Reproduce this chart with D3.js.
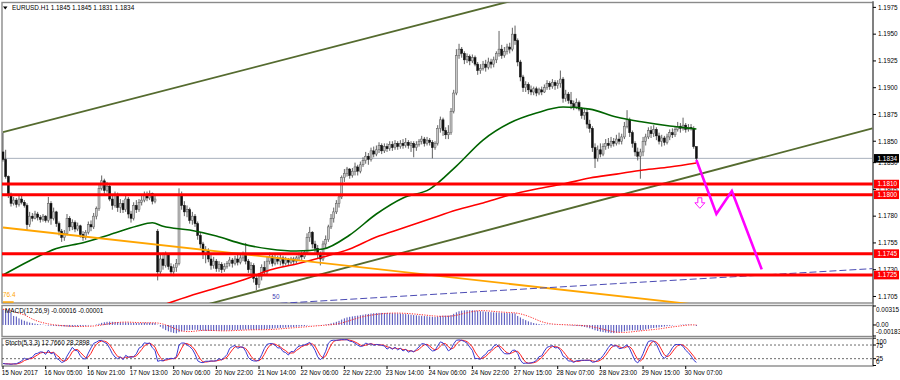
<!DOCTYPE html>
<html>
<head>
<meta charset="utf-8">
<script src="https://cdn.jsdelivr.net/npm/d3@7"></script>
<style>
body { margin: 0; background: #fff; }
svg text { font-family: "Liberation Sans", Arial, sans-serif; font-size: 6.4px; }
</style>
</head>
<body>
<svg id="chart" width="900" height="380"></svg>
<script>
// EURUSD H1 - candles, MAs, MACD and Stochastic, MT4 look

const headerText = "EURUSD.H1  1.1845 1.1845 1.1831 1.1834"
const macdTitle = "MACD(12,26,9) -0.00016 -0.00001"
const stochTitle = "Stoch(5,3,3) 12.7660 28.2898"

// prices are in pips above 1.1700
const opens = [140,133,117,100,92,95,91,96,93,90,72,80,78,82,79,77,80,76,92,78,84,73,66,60,64,78,70,74,68,71,63,60,65,72,70,80,87,106,113,104,108,96,90,100,88,92,86,96,82,78,90,86,93,95,100,97,101,94,
66,28,40,34,44,33,28,32,36,100,90,84,86,76,80,73,62,54,44,48,40,34,38,31,35,30,33,36,39,36,40,37,41,44,38,30,34,22,16,24,32,28,38,42,36,40,38,41,36,39,37,40,38,41,44,42,46,60,65,54,50,44,40,54,58,70,78,84,92,98,116,120,124,118,122,126,122,128,132,136,133,141,138,142,146,141,145,143,147,144,148,145,148,146,149,146,148,144,147,150,152,148,151,149,144,148,162,170,160,156,158,178,195,230,236,232,226,229,225,
228,222,216,218,222,219,224,222,226,232,236,230,234,238,236,250,244,224,210,200,203,198,196,199,195,198,196,200,204,201,205,202,204,208,190,194,188,185,182,186,180,174,177,166,162,144,134,142,138,145,148,146,150,148,152,150,154,164,170,158,148,140,136,140,150,154,160,157,161,155,150,153,149,154,158,156,161,164,162,165,161,163,162,145]
const highs = [158,142,118,102,98,97,99,99,95,92,84,83,85,84,81,82,81,98,94,88,85,75,68,67,82,80,77,76,74,72,66,67,75,76,83,89,110,118,115,112,110,99,103,102,96,95,99,98,85,93,95,96,100,103,103,104,102,99,
68,44,46,47,45,36,35,40,106,103,94,90,88,84,82,75,65,56,52,50,44,42,40,38,37,36,38,42,41,43,44,44,47,55,40,37,36,25,27,35,38,42,46,45,44,43,44,43,42,41,42,42,43,46,47,48,64,70,66,57,53,47,57,62,72,82,88,95,100,118,124,126,125,125,130,128,131,135,140,139,144,145,146,149,148,148,148,150,150,151,150,151,152,153,151,150,150,150,152,155,154,154,153,151,150,165,173,172,163,165,181,198,236,241,238,234,232,231,231,
230,224,222,225,226,228,227,229,234,253,240,238,241,242,256,258,246,226,212,206,205,202,201,201,200,201,203,207,206,208,207,207,216,210,198,196,196,188,190,188,182,181,180,170,164,148,146,148,148,152,153,154,153,156,158,157,168,179,172,160,150,144,143,154,157,163,164,165,163,158,156,155,157,161,162,164,168,167,172,167,166,166,164,145]
const lows = [131,115,97,89,90,88,89,91,88,67,70,75,77,76,74,75,74,74,72,76,70,62,56,57,62,66,67,65,66,60,57,58,63,66,68,77,85,104,101,102,94,86,88,84,83,83,84,78,74,76,83,84,90,93,94,95,91,92,
20,26,30,32,30,26,24,28,34,86,80,79,73,72,70,58,50,40,36,37,30,31,28,28,27,28,31,33,32,34,34,35,38,35,27,25,18,11,13,20,25,26,35,33,34,35,34,33,34,34,35,35,36,38,39,40,44,56,50,46,40,34,38,50,56,68,74,82,88,96,112,117,115,116,118,118,120,126,129,128,131,135,136,139,138,139,140,141,141,142,142,143,143,144,143,140,135,141,145,147,145,146,146,134,142,146,158,155,152,152,156,176,193,227,228,222,223,221,223,
220,212,213,216,215,217,218,219,223,229,227,228,231,232,234,240,220,206,196,196,194,193,193,192,193,193,195,198,198,199,198,199,200,186,187,185,180,179,180,178,171,170,162,158,140,125,131,135,136,142,143,144,145,146,147,147,152,162,154,144,136,132,115,136,146,152,153,154,151,147,145,146,147,151,153,154,159,158,160,158,159,160,143,131]
const closes = [133,117,100,92,95,91,96,93,90,72,80,78,82,79,77,80,76,92,78,84,73,66,60,64,78,70,74,68,71,63,60,65,72,70,80,87,106,113,104,108,96,90,100,88,92,86,96,82,78,90,86,93,95,100,97,101,94,96,
28,40,34,44,33,28,32,36,100,90,84,86,76,80,73,62,54,44,48,40,34,38,31,35,30,33,36,39,36,40,37,41,44,38,30,34,22,16,24,32,28,38,42,36,40,38,41,36,39,37,40,38,41,44,42,46,60,65,54,50,44,40,54,58,70,78,84,92,98,116,120,124,118,122,126,122,128,132,136,133,141,138,142,146,141,145,143,147,144,148,145,148,146,149,146,148,144,147,150,152,148,151,149,144,148,162,170,160,156,158,178,195,230,236,232,226,229,225,228,
222,216,218,222,219,224,222,226,232,236,230,234,238,236,250,244,224,210,200,203,198,196,199,195,198,196,200,204,201,205,202,204,208,190,194,188,185,182,186,180,174,177,166,162,144,134,142,138,145,148,146,150,148,152,150,154,164,170,158,148,140,136,140,150,154,160,157,161,155,150,153,149,154,158,156,161,164,162,165,161,163,162,145,134]

// one label every 16 bars
const timeLabels = ["15 Nov 2017","16 Nov 05:00","16 Nov 21:00","17 Nov 13:00","20 Nov 06:00","20 Nov 22:00","21 Nov 14:00","22 Nov 06:00","22 Nov 22:00","23 Nov 14:00","24 Nov 06:00","24 Nov 22:00","27 Nov 15:00","28 Nov 07:00","28 Nov 23:00","29 Nov 15:00","30 Nov 07:00"]
const priceTicks = [1.1975,1.1950,1.1925,1.1900,1.1875,1.1850,1.1830,1.1805,1.1780,1.1755,1.1730,1.1705]
const levels = [1.1810,1.1800,1.1745,1.1725]
const bidPrice = 1.1834

// moving averages, [bar, pips]
const greenMa = [[0,25],[10,38.4],[20,49.8],[30,55.2],[40,62.7],[50,70.5],[56,73.9],[60,70.5],[70,67],[80,61.4],[90,53.9],[100,49.3],[110,47.4],[120,49.3],[130,62.4],[140,82],[150,97],[160,105.3],[170,126.8],[180,151.1],[190,167],[200,176.3],[210,181.9],[220,180],[230,172.6],[240,167.9],[250,164.2],[260,161.4]]
const redMa = [[60,-3],[70,5.4],[80,12.9],[90,20.3],[100,29.7],[110,35.3],[120,41.8],[130,49.3],[140,60.5],[150,68.9],[160,77.3],[170,85.7],[180,92.3],[190,99.7],[200,105.3],[210,110],[220,115.6],[230,119.3],[240,123.1],[250,125.9],[260,129.6]]

// drawn objects, [bar, price]
const channelUpper = [[0,1.18585],[200,1.19871]]
const channelLower = [[60,1.16867],[326,1.18620]]
const orangeLine = [[0,1.17694],[260,1.16973]]
const fibLine = [[104,1.16986],[326,1.17310]]
const fibShort = [[0,1.16998],[4,1.16998]]
const forecast = [[260,1.18324],[267.5,1.17820],[273.3,1.18035],[284.5,1.17303]]
const arrowAt = [261.3,1.17925]

// MACD main in 1e-5 units
const macdMain = [260,255,245,200,150,140,110,90,70,55,40,30,22,15,10,5,
-5,-10,-12,-15,-18,-20,-22,-25,-28,-30,-30,-28,-26,-22,-18,-14,-10,-5,
0,8,20,35,45,52,55,52,50,48,45,42,42,40,35,35,33,33,35,38,38,38,36,35,
5,-30,-60,-85,-105,-120,-132,-138,-120,-105,-95,
-88,-85,-82,-80,-85,-90,-95,-98,-100,-100,-100,-98,-96,-95,-93,-90,-88,-86,-84,-82,-80,-78,-76,-76,-78,-80,-82,-80,-76,-72,-68,-64,-60,-56,-52,-49,-46,-43,-40,-37,-34,-30,
-26,-22,-18,-10,-4,-2,-2,-3,-4,2,8,16,26,38,52,68,90,110,125,135,
142,150,155,162,170,178,183,190,195,198,200,200,200,200,198,196,194,192,188,184,180,176,170,165,160,156,152,148,145,140,135,132,
140,150,155,155,155,165,185,210,228,238,242,245,245,244,240,234,228,225,220,217,213,210,208,206,203,200,198,195,195,192,
150,125,100,80,60,45,32,22,15,10,8,6,5,4,4,3,4,2,-2,-5,-8,-12,-14,-18,-24,-32,-42,-55,
-70,-88,-100,-110,-118,-125,-130,-135,-135,-130,-122,-115,-105,-95,-90,-88,-88,-90,-88,-82,-75,-65,
-55,-50,-45,-40,-33,-26,-20,-14,-8,-3,1,4,7,8,8,6,-3,-16]
const macdTicks = [0.00315, 0, -0.00183]
const stochTicks = [100, 75, 25, 0]

const svg = d3.select("#chart")
const plotLeft = 2, plotRight = 873
const mainTop = 2.5, mainBottom = 303
const macdTop = 305.5, macdBottom = 336.5
const stochTop = 338.5, stochBottom = 366

const px = p => 1.17 + p / 10000
const x = d3.scaleLinear().domain([0, 326]).range([3, 872.4])
const y = d3.scaleLinear().domain([1.16989, 1.19791]).range([303, 3])
const macdY = d3.scaleLinear().domain([-0.00183, 0.00315]).range([336, 306])
const stochY = d3.scaleLinear().domain([0, 100]).range([365.5, 338.2])
const bars = d3.range(closes.length)

// clip areas for each window
const defs = svg.append("defs")
function clip(id, top, bottom) {
    defs.append("clipPath").attr("id", id).append("rect")
        .attr("x", plotLeft).attr("y", top).attr("width", plotRight - plotLeft).attr("height", bottom - top)
}
clip("clipMain", mainTop, mainBottom)
clip("clipMacd", macdTop, macdBottom)
clip("clipStoch", stochTop, stochBottom)

// frames
;[[mainTop, mainBottom], [macdTop, macdBottom], [stochTop, stochBottom]].forEach(function(p) {
    svg.append("rect").attr("x", plotLeft).attr("y", p[0]).attr("width", plotRight - plotLeft).attr("height", p[1] - p[0])
        .attr("fill", "#fff").attr("stroke", "#8a8a8a").attr("stroke-width", 1.4)
})

const gMain = svg.append("g").attr("clip-path", "url(#clipMain)")

// bid line
gMain.append("line").attr("x1", plotLeft).attr("x2", plotRight)
    .attr("y1", y(bidPrice)).attr("y2", y(bidPrice)).attr("stroke", "#a8b0bc").attr("stroke-width", 1)

// candles
gMain.selectAll(".wick").data(bars).join("line").attr("class", "wick")
    .attr("x1", i => x(i)).attr("x2", i => x(i))
    .attr("y1", i => y(px(highs[i]))).attr("y2", i => y(px(lows[i])))
    .attr("stroke", "#3a3a3a").attr("stroke-width", 0.8)
gMain.selectAll(".body").data(bars).join("rect").attr("class", "body")
    .attr("x", i => x(i) - 1).attr("width", 2)
    .attr("y", i => y(px(Math.max(opens[i], closes[i]))))
    .attr("height", i => Math.max(0.8, Math.abs(y(px(opens[i])) - y(px(closes[i])))))
    .attr("fill", i => closes[i] >= opens[i] ? "#c8c8c8" : "#111")
    .attr("stroke", i => closes[i] >= opens[i] ? "#555" : "#111").attr("stroke-width", 0.5)

// moving averages
const maLine = d3.line().x(d => x(d[0])).y(d => y(px(d[1]))).curve(d3.curveMonotoneX)
gMain.append("path").attr("d", maLine(redMa)).attr("fill", "none").attr("stroke", "#ff0000").attr("stroke-width", 1.6)
gMain.append("path").attr("d", maLine(greenMa)).attr("fill", "none").attr("stroke", "#006400").attr("stroke-width", 1.6)

// trend objects
const objLine = d3.line().x(d => x(d[0])).y(d => y(d[1]))
gMain.append("path").attr("d", objLine(channelUpper)).attr("stroke", "#556b2f").attr("stroke-width", 1.8).attr("fill", "none")
gMain.append("path").attr("d", objLine(channelLower)).attr("stroke", "#556b2f").attr("stroke-width", 1.8).attr("fill", "none")
gMain.append("path").attr("d", objLine(orangeLine)).attr("stroke", "#ffa500").attr("stroke-width", 1.8).attr("fill", "none")
gMain.append("path").attr("d", objLine(fibShort)).attr("stroke", "#ffa500").attr("stroke-width", 1.5).attr("fill", "none")
gMain.append("path").attr("d", objLine(fibLine)).attr("stroke", "#4b4bb4").attr("stroke-width", 1)
    .attr("stroke-dasharray", "7,3").attr("fill", "none")
gMain.append("text").attr("x", 3).attr("y", y(1.16998) - 5).attr("fill", "#ffa500").text("76.4")
gMain.append("text").attr("x", x(fibLine[0][0]) - 8).attr("y", y(fibLine[0][1]) - 4).attr("fill", "#4040b0").text("50")

// support / resistance levels
gMain.selectAll(".level").data(levels).join("line").attr("class", "level")
    .attr("x1", plotLeft).attr("x2", plotRight).attr("y1", d => y(d)).attr("y2", d => y(d))
    .attr("stroke", "#ff0000").attr("stroke-width", 3)

// forecast path and arrow
gMain.append("path").attr("d", objLine(forecast)).attr("stroke", "#ff00ff").attr("stroke-width", 2.6)
    .attr("fill", "none").attr("stroke-linejoin", "miter")
const ax = x(arrowAt[0]), ay = y(arrowAt[1])
gMain.append("path")
    .attr("d", `M${ax - 2},${ay - 5} h4 v5 h3 l-5,5.5 l-5,-5.5 h3 z`)
    .attr("fill", "#fff").attr("stroke", "#ff00ff").attr("stroke-width", 0.9)

// header
svg.append("path").attr("d", "M3,6.5 h4.5 l-2.25,3 z").attr("fill", "#000")
svg.append("text").attr("x", 12).attr("y", 10.3).attr("fill", "#000").text(headerText)

// MACD window
const gMacd = svg.append("g").attr("clip-path", "url(#clipMacd)")
gMacd.selectAll(".hist").data(bars).join("line").attr("class", "hist")
    .attr("x1", i => x(i)).attr("x2", i => x(i))
    .attr("y1", macdY(0)).attr("y2", i => macdY(macdMain[i] / 100000))
    .attr("stroke", "#4a4ab8").attr("stroke-width", 1)
const macdSignal = bars.map(i => d3.mean(macdMain.slice(Math.max(0, i - 8), i + 1)))
gMacd.append("path")
    .attr("d", d3.line().x((d, i) => x(i)).y(d => macdY(d / 100000))(macdSignal))
    .attr("fill", "none").attr("stroke", "#ff2a2a").attr("stroke-width", 1).attr("stroke-dasharray", "1.2,1.3")
svg.append("text").attr("x", 5).attr("y", 313).attr("fill", "#000").text(macdTitle)

// Stochastic window, computed from the candles
const kRaw = bars.map(function(i) {
    var num = 0, den = 0
    for (var j = Math.max(0, i - 2); j <= i; j++) {
        var lo = d3.min(lows.slice(Math.max(0, j - 4), j + 1))
        var hi = d3.max(highs.slice(Math.max(0, j - 4), j + 1))
        num += closes[j] - lo
        den += hi - lo
    }
    return den ? 100 * num / den : 50
})
const dLine = bars.map(i => d3.mean(kRaw.slice(Math.max(0, i - 2), i + 1)))
const gStoch = svg.append("g").attr("clip-path", "url(#clipStoch)")
gStoch.selectAll(".lvl").data([75, 25]).join("line").attr("class", "lvl")
    .attr("x1", plotLeft).attr("x2", plotRight).attr("y1", d => stochY(d)).attr("y2", d => stochY(d))
    .attr("stroke", "#444").attr("stroke-width", 0.8).attr("stroke-dasharray", "2,2")
const stochLine = d3.line().x((d, i) => x(i)).y(d => stochY(d))
gStoch.append("path").attr("d", stochLine(dLine)).attr("fill", "none").attr("stroke", "#ff2020").attr("stroke-width", 1)
gStoch.append("path").attr("d", stochLine(kRaw)).attr("fill", "none").attr("stroke", "#3a3ad0").attr("stroke-width", 1)
svg.append("text").attr("x", 5).attr("y", 345).attr("fill", "#000").text(stochTitle)

// right axis
svg.append("line").attr("x1", plotRight).attr("x2", plotRight).attr("y1", 1).attr("y2", stochBottom)
    .attr("stroke", "#555").attr("stroke-width", 1)
const axisG = svg.append("g")
axisG.selectAll(".pt").data(priceTicks).join("g").attr("class", "pt")
    .each(function(d) {
        var g = d3.select(this)
        g.append("line").attr("x1", plotRight).attr("x2", plotRight + 3).attr("y1", y(d)).attr("y2", y(d)).attr("stroke", "#000")
        g.append("text").attr("x", 878).attr("y", y(d) + 2.3).text(d.toFixed(4))
    })

function priceBox(value, color) {
    axisG.append("rect").attr("x", plotRight + 1).attr("y", y(value) - 4.3).attr("width", 25).attr("height", 8.6).attr("fill", color)
    axisG.append("text").attr("x", 877.5).attr("y", y(value) + 2.3).attr("fill", "#fff").text(value.toFixed(4))
}
levels.forEach(l => priceBox(l, "#ff0000"))
priceBox(bidPrice, "#000")

const macdOffsets = [3.5, 0, -4.5]
macdTicks.forEach(function(d, k) {
    axisG.append("line").attr("x1", plotRight).attr("x2", plotRight + 3).attr("y1", macdY(d)).attr("y2", macdY(d)).attr("stroke", "#000")
    axisG.append("text").attr("x", 876).attr("y", macdY(d) + macdOffsets[k] + 2.3).text(d === 0 ? "0.00" : d.toFixed(5))
})
const stochOffsets = [3.3, 0.5, -0.2, -4]
stochTicks.forEach(function(d, k) {
    axisG.append("line").attr("x1", plotRight).attr("x2", plotRight + 3).attr("y1", stochY(d)).attr("y2", stochY(d)).attr("stroke", "#000")
    axisG.append("text").attr("x", 876).attr("y", stochY(d) + stochOffsets[k] + 2.3).text(d)
})

// time axis
const timeG = svg.append("g")
timeLabels.forEach(function(t, k) {
    var tx = x(k * 16)
    timeG.append("line").attr("x1", tx).attr("x2", tx).attr("y1", stochBottom).attr("y2", stochBottom + 3).attr("stroke", "#000")
    timeG.append("text").attr("x", tx - 1.3).attr("y", 374.5).text(t)
})
</script>
</body>
</html>
